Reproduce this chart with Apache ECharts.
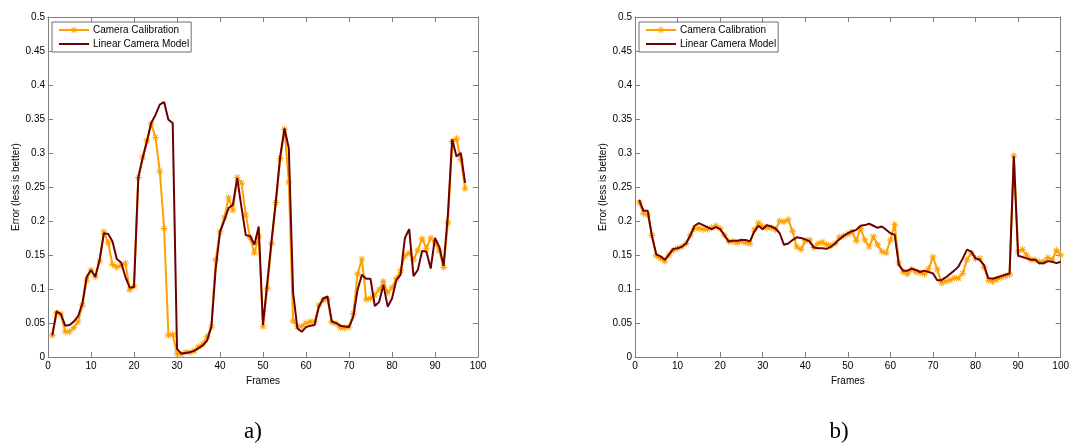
<!DOCTYPE html>
<html>
<head>
<meta charset="utf-8">
<script src="https://cdn.jsdelivr.net/npm/echarts@6/dist/echarts.min.js"></script>
<style>
html,body{margin:0;padding:0;background:#fff;}
#chart{width:1072px;height:443px;}
</style>
</head>
<body>
<div id="chart"></div>
<script>
// ---- data ----
var seriesNames = ['Camera Calibration', 'Linear Camera Model'];
var xTicks = [0, 10, 20, 30, 40, 50, 60, 70, 80, 90, 100];
var yTicks = ['0', '0.05', '0.1', '0.15', '0.2', '0.25', '0.3', '0.35', '0.4', '0.45', '0.5'];
var captions = ['a)', 'b)'];

// chart a) frames 1..97
var calibA = [0.032,0.065,0.063,0.037,0.037,0.043,0.052,0.076,0.113,0.128,
  0.118,0.141,0.184,0.168,0.136,0.132,0.135,0.138,0.099,0.104,
  0.264,0.294,0.318,0.343,0.323,0.273,0.189,0.032,0.033,0.005,
  0.004,0.007,0.007,0.009,0.015,0.019,0.030,0.044,0.143,0.184,
  0.205,0.234,0.216,0.264,0.256,0.209,0.175,0.153,0.177,0.045,
  0.101,0.167,0.227,0.292,0.335,0.257,0.053,0.045,0.045,0.050,
  0.052,0.052,0.076,0.084,0.085,0.051,0.049,0.043,0.043,0.044,
  0.064,0.122,0.144,0.085,0.086,0.091,0.099,0.111,0.095,0.102,
  0.115,0.127,0.149,0.153,0.143,0.157,0.174,0.160,0.175,0.168,
  0.156,0.132,0.197,0.317,0.321,0.290,0.248];
var linearA = [0.032,0.067,0.063,0.046,0.047,0.052,0.060,0.079,0.118,0.128,
  0.118,0.143,0.182,0.181,0.170,0.144,0.139,0.118,0.102,0.103,
  0.264,0.292,0.317,0.344,0.356,0.371,0.375,0.349,0.344,0.012,
  0.005,0.006,0.007,0.009,0.013,0.017,0.024,0.045,0.130,0.184,
  0.201,0.219,0.224,0.263,0.220,0.179,0.178,0.165,0.192,0.047,
  0.110,0.172,0.230,0.295,0.336,0.307,0.095,0.042,0.037,0.044,
  0.046,0.047,0.074,0.086,0.089,0.052,0.050,0.046,0.045,0.044,
  0.059,0.099,0.121,0.115,0.115,0.075,0.081,0.106,0.074,0.086,
  0.113,0.121,0.175,0.188,0.119,0.128,0.156,0.155,0.130,0.175,
  0.162,0.134,0.210,0.320,0.295,0.300,0.256];

// chart b) frames 1..100
var calibB = [0.227,0.211,0.209,0.179,0.149,0.145,0.141,0.150,0.157,0.160,
  0.162,0.167,0.179,0.189,0.189,0.188,0.188,0.190,0.193,0.189,
  0.179,0.170,0.170,0.168,0.170,0.168,0.167,0.187,0.197,0.192,
  0.190,0.190,0.187,0.200,0.199,0.202,0.185,0.162,0.158,0.171,
  0.172,0.161,0.167,0.169,0.165,0.164,0.167,0.176,0.178,0.181,
  0.184,0.171,0.189,0.172,0.162,0.177,0.165,0.155,0.153,0.172,
  0.195,0.138,0.125,0.122,0.129,0.125,0.124,0.122,0.130,0.147,
  0.129,0.109,0.111,0.113,0.116,0.116,0.123,0.143,0.153,0.145,
  0.145,0.132,0.113,0.111,0.114,0.117,0.119,0.121,0.296,0.155,
  0.158,0.150,0.143,0.143,0.140,0.140,0.146,0.143,0.157,0.150];
var linearB = [0.231,0.215,0.215,0.177,0.151,0.148,0.143,0.151,0.159,0.160,
  0.162,0.167,0.179,0.193,0.197,0.194,0.191,0.188,0.191,0.188,
  0.179,0.170,0.171,0.171,0.172,0.172,0.170,0.184,0.193,0.188,
  0.194,0.192,0.189,0.182,0.165,0.167,0.172,0.176,0.175,0.173,
  0.170,0.161,0.160,0.160,0.159,0.162,0.167,0.173,0.178,0.182,
  0.185,0.187,0.193,0.194,0.196,0.193,0.190,0.192,0.187,0.182,
  0.180,0.135,0.127,0.127,0.130,0.128,0.125,0.127,0.125,0.123,
  0.113,0.113,0.117,0.122,0.127,0.133,0.145,0.158,0.155,0.145,
  0.143,0.135,0.116,0.115,0.117,0.119,0.121,0.123,0.295,0.149,
  0.147,0.145,0.143,0.143,0.138,0.138,0.141,0.140,0.138,0.140];

// ---- build ----
function pairs(arr){ return arr.map(function(v,i){ return [i+1, v]; }); }

var ORANGE = '#FFA000';
var DARK = '#6E0000';
var AXIS = '#7F7F7F';
var FONT = 'Liberation Sans, Arial, sans-serif';
var STAR = 'path://M-1 -0.13 L1 -0.13 L1 0.13 L-1 0.13 Z M-0.13 -1 L0.13 -1 L0.13 1 L-0.13 1 Z M-0.608 -0.792 L0.792 0.608 L0.608 0.792 L-0.792 -0.608 Z M-0.792 0.608 L0.608 -0.792 L0.792 -0.608 L-0.608 0.792 Z';

var grids = [
  {left: 48, top: 17, width: 430, height: 340},
  {left: 635, top: 17, width: 428, height: 340}
];

var xAxes = [], yAxes = [], series = [], legends = [], graphics = [];
grids.forEach(function(g, gi){
  var tickStyle = {show: true, inside: true, length: 5, lineStyle: {color: AXIS}};
  xAxes.push({
    gridIndex: gi, type: 'value', min: 0, max: 100, interval: 10, position: 'bottom',
    name: 'Frames', nameLocation: 'middle', nameGap: 15,
    nameTextStyle: {fontFamily: FONT, fontSize: 10, color: '#000'},
    axisLine: {show: true, onZero: false, lineStyle: {color: AXIS, width: 1}},
    axisTick: tickStyle,
    axisLabel: {fontFamily: FONT, fontSize: 10, color: '#000', margin: 4,
      formatter: function(v){ return xTicks.indexOf(v) >= 0 ? String(v) : ''; }},
    splitLine: {show: false}
  });
  xAxes.push({
    gridIndex: gi, type: 'value', min: 0, max: 100, interval: 10, position: 'top',
    axisLine: {show: true, onZero: false, lineStyle: {color: AXIS, width: 1}},
    axisTick: tickStyle, axisLabel: {show: false}, splitLine: {show: false}
  });
  yAxes.push({
    gridIndex: gi, type: 'value', min: 0, max: 0.5, interval: 0.05, position: 'left',
    name: 'Error (less is better)', nameLocation: 'middle', nameGap: 27,
    nameTextStyle: {fontFamily: FONT, fontSize: 10, color: '#000'},
    axisLine: {show: true, onZero: false, lineStyle: {color: AXIS, width: 1}},
    axisTick: tickStyle,
    axisLabel: {fontFamily: FONT, fontSize: 10, color: '#000', margin: 3,
      formatter: function(v){ var s = String(+v.toFixed(2)); return yTicks.indexOf(s) >= 0 ? s : ''; }},
    splitLine: {show: false}
  });
  yAxes.push({
    gridIndex: gi, type: 'value', min: 0, max: 0.5, interval: 0.05, position: 'right',
    axisLine: {show: true, onZero: false, lineStyle: {color: AXIS, width: 1}},
    axisTick: tickStyle, axisLabel: {show: false}, splitLine: {show: false}
  });
  var cal = gi === 0 ? calibA : calibB;
  var lin = gi === 0 ? linearA : linearB;
  series.push({
    name: seriesNames[0], type: 'line', xAxisIndex: gi*2, yAxisIndex: gi*2,
    data: pairs(cal), symbol: STAR, symbolSize: 7, showSymbol: true, showAllSymbol: true,
    lineStyle: {color: ORANGE, width: 2}, itemStyle: {color: ORANGE},
    emphasis: {disabled: true}, z: 2
  });
  series.push({
    name: seriesNames[1], type: 'line', xAxisIndex: gi*2, yAxisIndex: gi*2,
    data: pairs(lin), symbol: 'none', showSymbol: false,
    lineStyle: {color: DARK, width: 2}, itemStyle: {color: DARK},
    emphasis: {disabled: true}, z: 3
  });
  legends.push({
    data: [{name: seriesNames[0]}, {name: seriesNames[1], itemStyle: {opacity: 0}}],
    orient: 'vertical', left: g.left + 4, top: 22,
    backgroundColor: '#fff', borderColor: '#6f6f6f', borderWidth: 1,
    padding: [3, 2, 3, 6], itemWidth: 30, itemHeight: 9, itemGap: 4,
    textStyle: {fontFamily: FONT, fontSize: 10, color: '#000', padding: [0,0,0,-1]},
    selectedMode: false
  });
  graphics.push({
    type: 'text',
    x: g.left + g.width/2 - 10, y: 432,
    style: {text: captions[gi], fontFamily: 'Liberation Serif, Times New Roman, serif', fontSize: 23,
      fill: '#000', textAlign: 'center', textVerticalAlign: 'middle'}
  });
});

var chart = echarts.init(document.getElementById('chart'), null, {renderer: 'canvas'});
chart.setOption({
  animation: false,
  backgroundColor: '#fff',
  grid: grids,
  xAxis: xAxes,
  yAxis: yAxes,
  legend: legends,
  series: series,
  graphic: graphics
});
</script>
</body>
</html>
